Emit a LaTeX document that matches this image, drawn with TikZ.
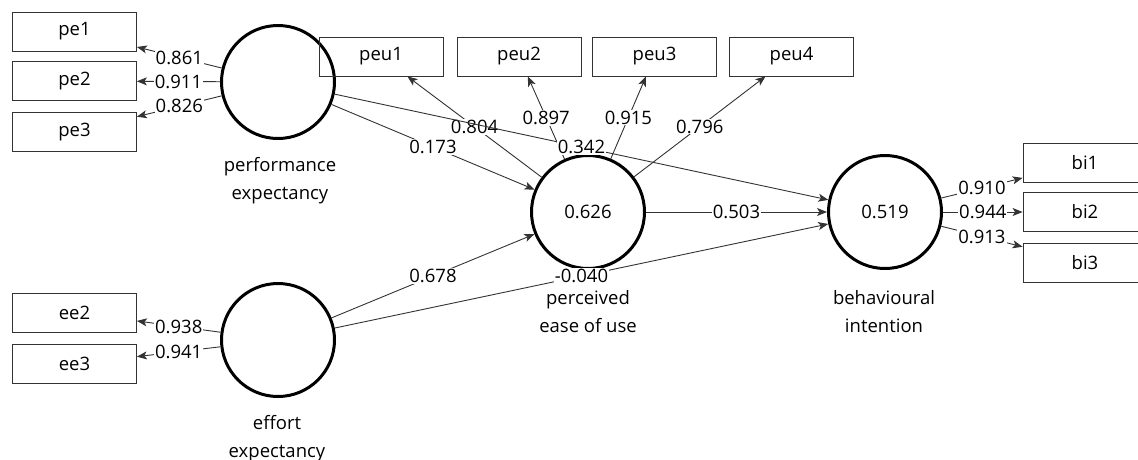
\documentclass[tikz,border=0pt]{standalone}
\usepackage{fontspec}
\setmainfont{Open Sans}
\usetikzlibrary{arrows.meta}
\newcommand\dfont{\fontsize{18.5}{28}\selectfont}
\begin{document}
\begin{tikzpicture}[x=1pt,y=-1pt,
  lv/.style={circle,draw,line width=3pt,minimum size=113pt,inner sep=0pt,font=\dfont},
  ind/.style={rectangle,draw=black!80,line width=0.8pt,minimum width=124pt,minimum height=39pt,inner sep=0pt,font=\dfont},
  con/.style={draw=black!80,line width=0.9pt,-{Stealth[length=10pt,width=8pt,inset=2.5pt]}},
  val/.style={fill=white,inner sep=1pt,font=\dfont,text=black},
  captxt/.style={align=center,font=\dfont,text=black}
]
\clip (0,0) rectangle (1138,459);
\useasboundingbox (0,0) rectangle (1138,459);

% latent variables
\node[lv] (pe)  at (278,82)  {};
\node[lv] (ee)  at (278,340) {};
\node[lv] (peu) at (588,212) {0.626};
\node[lv] (bi)  at (885,212) {0.519};

% captions
\node[captxt] (pecap)  at (280,181) {performance\\expectancy};
\node[captxt] (eecap)  at (277,438.5) {effort\\expectancy};
\node[captxt] (peucap) at (588,312) {perceived\\ease of use};
\node[captxt] (bicap)  at (884,312) {behavioural\\intention};

% indicators
\node[ind] (pe1) at (74.5,31.5) {pe1};
\node[ind] (pe2) at (74.5,81)   {pe2};
\node[ind] (pe3) at (74.5,132)  {pe3};
\node[ind] (ee2) at (74.5,312.5) {ee2};
\node[ind] (ee3) at (74.5,364)   {ee3};
\node[ind] (peu1) at (381,56.5)   {peu1};
\node[ind] (peu2) at (519,56.5)   {peu2};
\node[ind] (peu3) at (654.5,56.5) {peu3};
\node[ind] (peu4) at (791.5,56.5) {peu4};
\node[ind] (bi1) at (1085,162.5) {bi1};
\node[ind] (bi2) at (1085,212)   {bi2};
\node[ind] (bi3) at (1085,262.5) {bi3};

% outer loadings
\draw[con] (pe) -- node[val]{0.861} (pe1);
\draw[con] (pe) -- node[val]{0.911} (pe2);
\draw[con] (pe) -- node[val]{0.826} (pe3);
\draw[con] (ee) -- node[val]{0.938} (ee2);
\draw[con] (ee) -- node[val]{0.941} (ee3);
\draw[con] (peu) -- node[val]{0.804} (peu1);
\draw[con] (peu) -- node[val]{0.897} (peu2);
\draw[con] (peu) -- node[val]{0.915} (peu3);
\draw[con] (peu) -- node[val]{0.796} (peu4);
\draw[con] (bi) -- node[val]{0.910} (bi1);
\draw[con] (bi) -- node[val]{0.944} (bi2);
\draw[con] (bi) -- node[val]{0.913} (bi3);

% path coefficients
\draw[con] (pe) -- node[val]{0.173} (peu);
\draw[con] (ee) -- node[val]{0.678} (peu);
\draw[con] (peu) -- node[val]{0.503} (bi);
\draw[con] (ee) -- node[val]{-0.040} (bi);
\draw[con] (pe) -- node[val]{0.342} (bi);
\end{tikzpicture}
\end{document}
